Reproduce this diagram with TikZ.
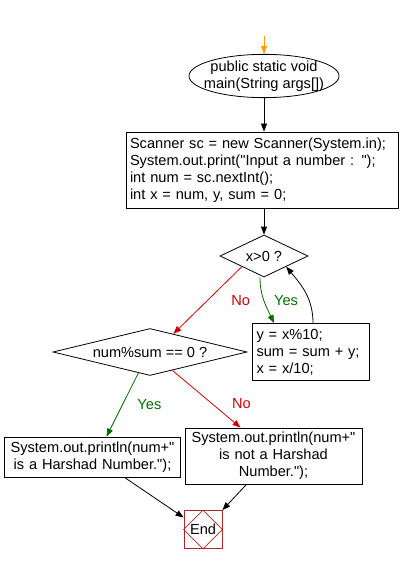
\documentclass[tikz,border=0pt]{standalone}
\usepackage{fontspec}
\setmainfont{Liberation Sans}[Ligatures=TeXOff]
\usetikzlibrary{shapes.geometric, arrows.meta, calc}
\definecolor{yesgreen}{RGB}{0,110,0}
\definecolor{nored}{RGB}{210,0,0}
\definecolor{endred}{RGB}{170,40,40}
\definecolor{startorange}{RGB}{255,160,0}
\tikzstyle{startstop} = [ellipse,
draw=black,
inner xsep=-7pt,
inner ysep=0pt,
align=center]
\tikzstyle{process} = [rectangle,
draw=black,
align=left,
inner xsep=4pt]
\tikzstyle{output} = [rectangle,
draw=black,
align=center,
inner xsep=2pt]
\tikzstyle{decision} = [diamond,
draw=black,
inner sep=0pt,
text centered]
\tikzstyle{stopbox} = [rectangle,
draw=endred,
minimum size=38pt,
inner sep=0pt]
\tikzstyle{arrow} = [->, >={Triangle[length=8pt,width=6pt]}]
\tikzstyle{yes} = [text=yesgreen]
\tikzstyle{no} = [text=nored]

\begin{document}
\begin{tikzpicture}[x=1pt, y=-1pt, line width=0.8pt, font=\fontsize{14.6}{17}\selectfont]
			\useasboundingbox (0,0) rectangle (401,564);
			\coordinate (in) at (264,36);
			\node (start) [startstop] at (264,76) {public static void\\main(String args[])};
			\node (init) [process, text width=264pt, minimum height=76pt] at (262,170) {Scanner sc = new Scanner(System.in);\\System.out.print("Input a number : ");\\int num = sc.nextInt();\\int x = num, y, sum = 0;};
			\node (cond1) [decision, aspect=2, minimum width=88pt, minimum height=42pt] at (264,256) {x>0 ?};
			\node (loop) [process, text width=109pt, minimum height=57pt] at (311,352) {y = x\%10;\\sum = sum + y;\\x = x/10;};
			\node (cond2) [decision, aspect=4, minimum width=194pt, minimum height=47pt] at (150,352) {num\%sum == 0 ?};
			\node (yesbox) [output, text width=172pt, minimum height=40pt] at (92.5,457) {System.out.println(num+"\\is a Harshad Number.");};
			\node (nobox) [output, text width=173pt, minimum height=56pt] at (273.5,456) {System.out.println(num+"\\is not a Harshad\\Number.");};
			\node (end) [stopbox] at (203,529.5) {End};
			\draw[draw=endred] (end.north) -- (end.east) -- (end.south) -- (end.west) -- cycle;

			\draw[arrow, draw=startorange] (in) -- (start);
			\draw[arrow] (start.south) -- (start.south |- init.north);
			\draw[arrow] (init.south -| cond1) -- (cond1.north);
			\draw[arrow, draw=nored] (cond1.south west) -- node[no, xshift=33pt] {No} ($(cond2.north)!.24!(cond2.east)$);
			\draw[arrow, draw=yesgreen] ([xshift=-4pt]cond1.south) to[out=-90, in=115] node[yes, xshift=22pt] {Yes} ([xshift=-37pt]loop.north);
			\draw[arrow] ([xshift=2pt]loop.north) to[out=90, in=-50] (cond1.south east);
			\draw[arrow, draw=yesgreen] ($(cond2.south)!.12!(cond2.west)$) -- node[yes, xshift=27pt] {Yes} ([xshift=14pt]yesbox.north);
			\draw[arrow, draw=nored] ($(cond2.south)!.23!(cond2.east)$) -- node[no, xshift=35pt, yshift=-5pt] {No} ([xshift=-33pt]nobox.north);
			\draw[arrow] ([xshift=32pt]yesbox.south) -- ([yshift=12pt]end.west);
			\draw[arrow] ([xshift=-27pt]nobox.south) -- (end.north east);
		\end{tikzpicture}
\end{document}
